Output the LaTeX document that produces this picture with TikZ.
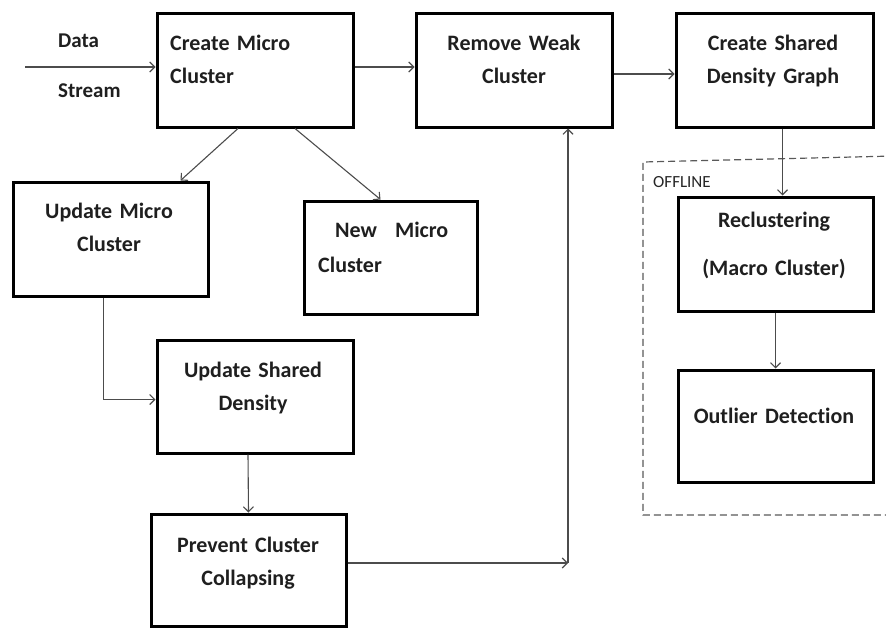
\documentclass[tikz,border=0pt]{standalone}
\usepackage{fontspec}
\setmainfont{Carlito}[Ligatures=NoCommon]
\usetikzlibrary{arrows.meta,calc}
\begin{document}
\begin{tikzpicture}[x=1pt,y=-1pt,
  box/.style={draw=black,line width=3pt,inner sep=0pt},
  lbl/.style={font=\fontsize{22}{33}\selectfont\bfseries,text=black!88,inner sep=0pt,anchor=base,align=center,text width=#1},
  conn/.style={draw=black!70,line width=1.1pt,-{Straight Barb[length=5pt,width=10pt]}},
  plain/.style={draw=black!70,line width=1.1pt}]
\useasboundingbox (0,0) rectangle (886,629);
% boxes
\node[box,minimum width=196pt,minimum height=114pt] (cm) at (255,70) {};
\node[box,minimum width=196pt,minimum height=114pt] (rw) at (514,70) {};
\node[box,minimum width=197pt,minimum height=114pt] (csd) at (774.5,70) {};
\node[box,minimum width=195pt,minimum height=114pt] (um) at (110.5,239) {};
\node[box,minimum width=173pt,minimum height=113pt] (nm) at (390.5,257.5) {};
\node[box,minimum width=196pt,minimum height=113pt] (us) at (255,396.5) {};
\node[box,minimum width=195pt,minimum height=112pt] (pc) at (248.5,570) {};
\node[box,minimum width=195pt,minimum height=114pt] (rc) at (775.5,254) {};
\node[box,minimum width=195pt,minimum height=112pt] (od) at (775.5,426) {};
% texts
\node[lbl=180pt,anchor=base west,align=left] (tcm) at (170,50) {Create Micro\\Cluster};
\node[lbl=180pt] (trw) at (514,50) {Remove Weak\\Cluster};
\node[lbl=185pt] (tcsd) at (773,50) {Create Shared\\Density Graph};
\node[lbl=180pt] (tum) at (109,218) {Update Micro\\Cluster};
\node[lbl=160pt,anchor=base west,align=left,font=\fontsize{22}{35}\selectfont\bfseries] (tnm) at (318,237) {\hspace*{17pt}New\hspace{18pt}Micro\\Cluster};
\node[lbl=180pt] (tus) at (253,377) {Update Shared\\Density};
\node[lbl=180pt] (tpc) at (248,552) {Prevent Cluster\\Collapsing};
\node[lbl=180pt,font=\fontsize{22}{48}\selectfont\bfseries] (trc) at (774,227) {Reclustering\\(Macro Cluster)};
\node[lbl=180pt] (tod) at (774,423) {Outlier Detection};
\node[lbl=80pt,anchor=base west,align=left,font=\fontsize{21}{50}\selectfont\bfseries] (tds) at (58,47) {Data\\Stream};
\node[inner sep=0pt,anchor=base west,font=\fontsize{17}{20}\selectfont,text=black!85] (toff) at (653,187) {OFFLINE};
% offline dashed region
\draw[black!65,line width=1.2pt,dash pattern=on 7pt off 4pt] (895,156) -- (643,162) -- (643,515) -- (895,515);
% connectors
\coordinate (ds) at (25,67);
\coordinate (y74) at (0,74);
\coordinate (corner) at (568,563);
\draw[conn] (ds) -- (ds -| cm.west);
\draw[conn] (cm.east |- ds) -- (rw.west |- ds);
\draw[conn] (rw.east |- y74) -- (csd.west |- y74);
\draw[conn] ($(cm.south)+(-17,0)$) -- ($(um.north)+(70,0)$);
\draw[conn] ($(cm.south)+(40,0)$) -- ($(nm.north)+(-10,0)$);
\draw[conn] ($(um.south)+(-7,0)$) |- ($(us.west)+(0,3)$);
\draw[conn] ($(us.south)+(-7,0)$) -- (pc.north);
\draw[conn] ($(pc.east)+(0,-7)$) -- (corner);
\draw[conn] (corner) -- (corner |- rw.south);
\draw[conn] ($(csd.south)+(8,0)$) -- ($(rc.north)+(7,0)$);
\draw[conn] (rc.south) -- (od.north);
\end{tikzpicture}
\end{document}
